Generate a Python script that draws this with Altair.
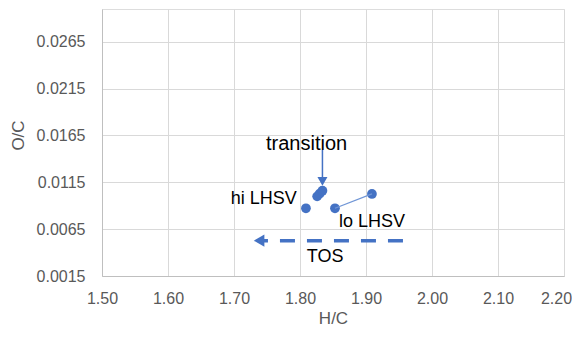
import altair as alt
import pandas as pd

# Data
hc = [1.809, 1.826, 1.830, 1.834, 1.853, 1.909]
oc = [0.00873, 0.0100, 0.0103, 0.0106, 0.00873, 0.01026]

x_ticks = [1.50, 1.60, 1.70, 1.80, 1.90, 2.00, 2.10, 2.20]
y_ticks = [0.0015, 0.0065, 0.0115, 0.0165, 0.0215, 0.0265]
x_domain = [1.50, 2.20]
y_domain = [0.0015, 0.030]

# connector between the two lo-LHSV points
conn_x = [1.853, 1.909]
conn_y = [0.00873, 0.01026]

# TOS arrow (dashed, pointing left)
tos_x_start, tos_x_end, tos_y = 1.956, 1.745, 0.00527
tos_head_x = 1.738
# transition arrow (pointing down)
tr_x, tr_y_start, tr_y_end = 1.834, 0.01496, 0.0120
tr_head_y = 0.0116

labels_txt = ["transition", "hi LHSV", "lo LHSV", "TOS"]
labels_x = [1.810, 1.795, 1.859, 1.838]
labels_y = [0.0156, 0.00975, 0.00722, 0.00348]
labels_align = ["center", "right", "left", "center"]
labels_size = [20, 18, 18, 18]

BLUE = "#4472C4"
FONT = "Liberation Sans"

xscale = alt.Scale(domain=x_domain, nice=False, zero=False)
yscale = alt.Scale(domain=y_domain, nice=False, zero=False)

xaxis = alt.Axis(values=x_ticks, format=".2f", title="H/C", grid=True,
                 gridColor="#D9D9D9", domainColor="#BFBFBF", ticks=False,
                 tickSize=0, labelFontSize=16, labelColor="#595959",
                 labelFont=FONT, labelPadding=14, labelFlush=False,
                 labelOverlap=False,
                 labelOffset=alt.expr("datum.value >= 2.19 ? -8 : 0"),
                 titleFont=FONT, titleFontSize=17,
                 titleFontWeight="normal", titleColor="#595959",
                 titleX=231, titleY=47, titleBaseline="alphabetic")
yaxis = alt.Axis(values=y_ticks, format=".4f", title="O/C", grid=True,
                 gridColor="#D9D9D9", domainColor="#BFBFBF", ticks=False,
                 tickSize=0, labelFontSize=16, labelColor="#595959",
                 labelFont=FONT, labelPadding=17, labelOverlap=False,
                 titleFont=FONT, titleFontSize=17, titleFontWeight="normal",
                 titleColor="#595959", titleX=-84, titleY=126,
                 titleAlign="center", titleBaseline="middle", titleAngle=270)

pts = pd.DataFrame({"x": hc, "y": oc})
points = alt.Chart(pts).mark_point(filled=True, size=95, color=BLUE, opacity=1).encode(
    x=alt.X("x:Q", scale=xscale, axis=xaxis),
    y=alt.Y("y:Q", scale=yscale, axis=yaxis),
)

conn = pd.DataFrame({"x": conn_x, "y": conn_y})
connector = alt.Chart(conn).mark_line(color="#7096D6", strokeWidth=1.3).encode(
    x=alt.X("x:Q", scale=xscale), y=alt.Y("y:Q", scale=yscale)
)

tos = pd.DataFrame({"x": [tos_x_start], "x2": [tos_x_end], "y": [tos_y]})
tos_line = alt.Chart(tos).mark_rule(color=BLUE, strokeWidth=3.5, strokeDash=[15, 12]).encode(
    x=alt.X("x:Q", scale=xscale), x2="x2:Q", y=alt.Y("y:Q", scale=yscale)
)
tos_head_df = pd.DataFrame({"x": [tos_head_x], "y": [tos_y]})
tos_head = alt.Chart(tos_head_df).mark_point(shape="triangle-left", filled=True, size=150,
                                             color=BLUE, opacity=1).encode(
    x=alt.X("x:Q", scale=xscale), y=alt.Y("y:Q", scale=yscale)
)

tr = pd.DataFrame({"x": [tr_x], "y": [tr_y_start], "y2": [tr_y_end]})
tr_line = alt.Chart(tr).mark_rule(color=BLUE, strokeWidth=1.5).encode(
    x=alt.X("x:Q", scale=xscale), y=alt.Y("y:Q", scale=yscale), y2="y2:Q"
)
tr_head_df = pd.DataFrame({"x": [tr_x], "y": [tr_head_y]})
tr_head = alt.Chart(tr_head_df).mark_point(shape="triangle-down", filled=True, size=100,
                                           color=BLUE, opacity=1).encode(
    x=alt.X("x:Q", scale=xscale), y=alt.Y("y:Q", scale=yscale)
)

text_layers = []
for t, xx, yy, al, fs in zip(labels_txt, labels_x, labels_y, labels_align, labels_size):
    d = pd.DataFrame({"x": [xx], "y": [yy], "t": [t]})
    text_layers.append(
        alt.Chart(d).mark_text(align=al, baseline="middle", font=FONT, fontSize=fs,
                               color="#000000").encode(
            x=alt.X("x:Q", scale=xscale), y=alt.Y("y:Q", scale=yscale), text="t:N"
        )
    )

chart = alt.layer(points, connector, tos_line, tos_head, tr_line, tr_head, *text_layers).properties(
    width=462, height=267,
    autosize=alt.AutoSizeParams(type="none"),
    padding={"left": 94, "top": 1, "right": 8, "bottom": 52},
).configure_view(stroke=None).configure(background="white")

chart.save("out.html", embed_options={"renderer": "svg", "actions": False})
